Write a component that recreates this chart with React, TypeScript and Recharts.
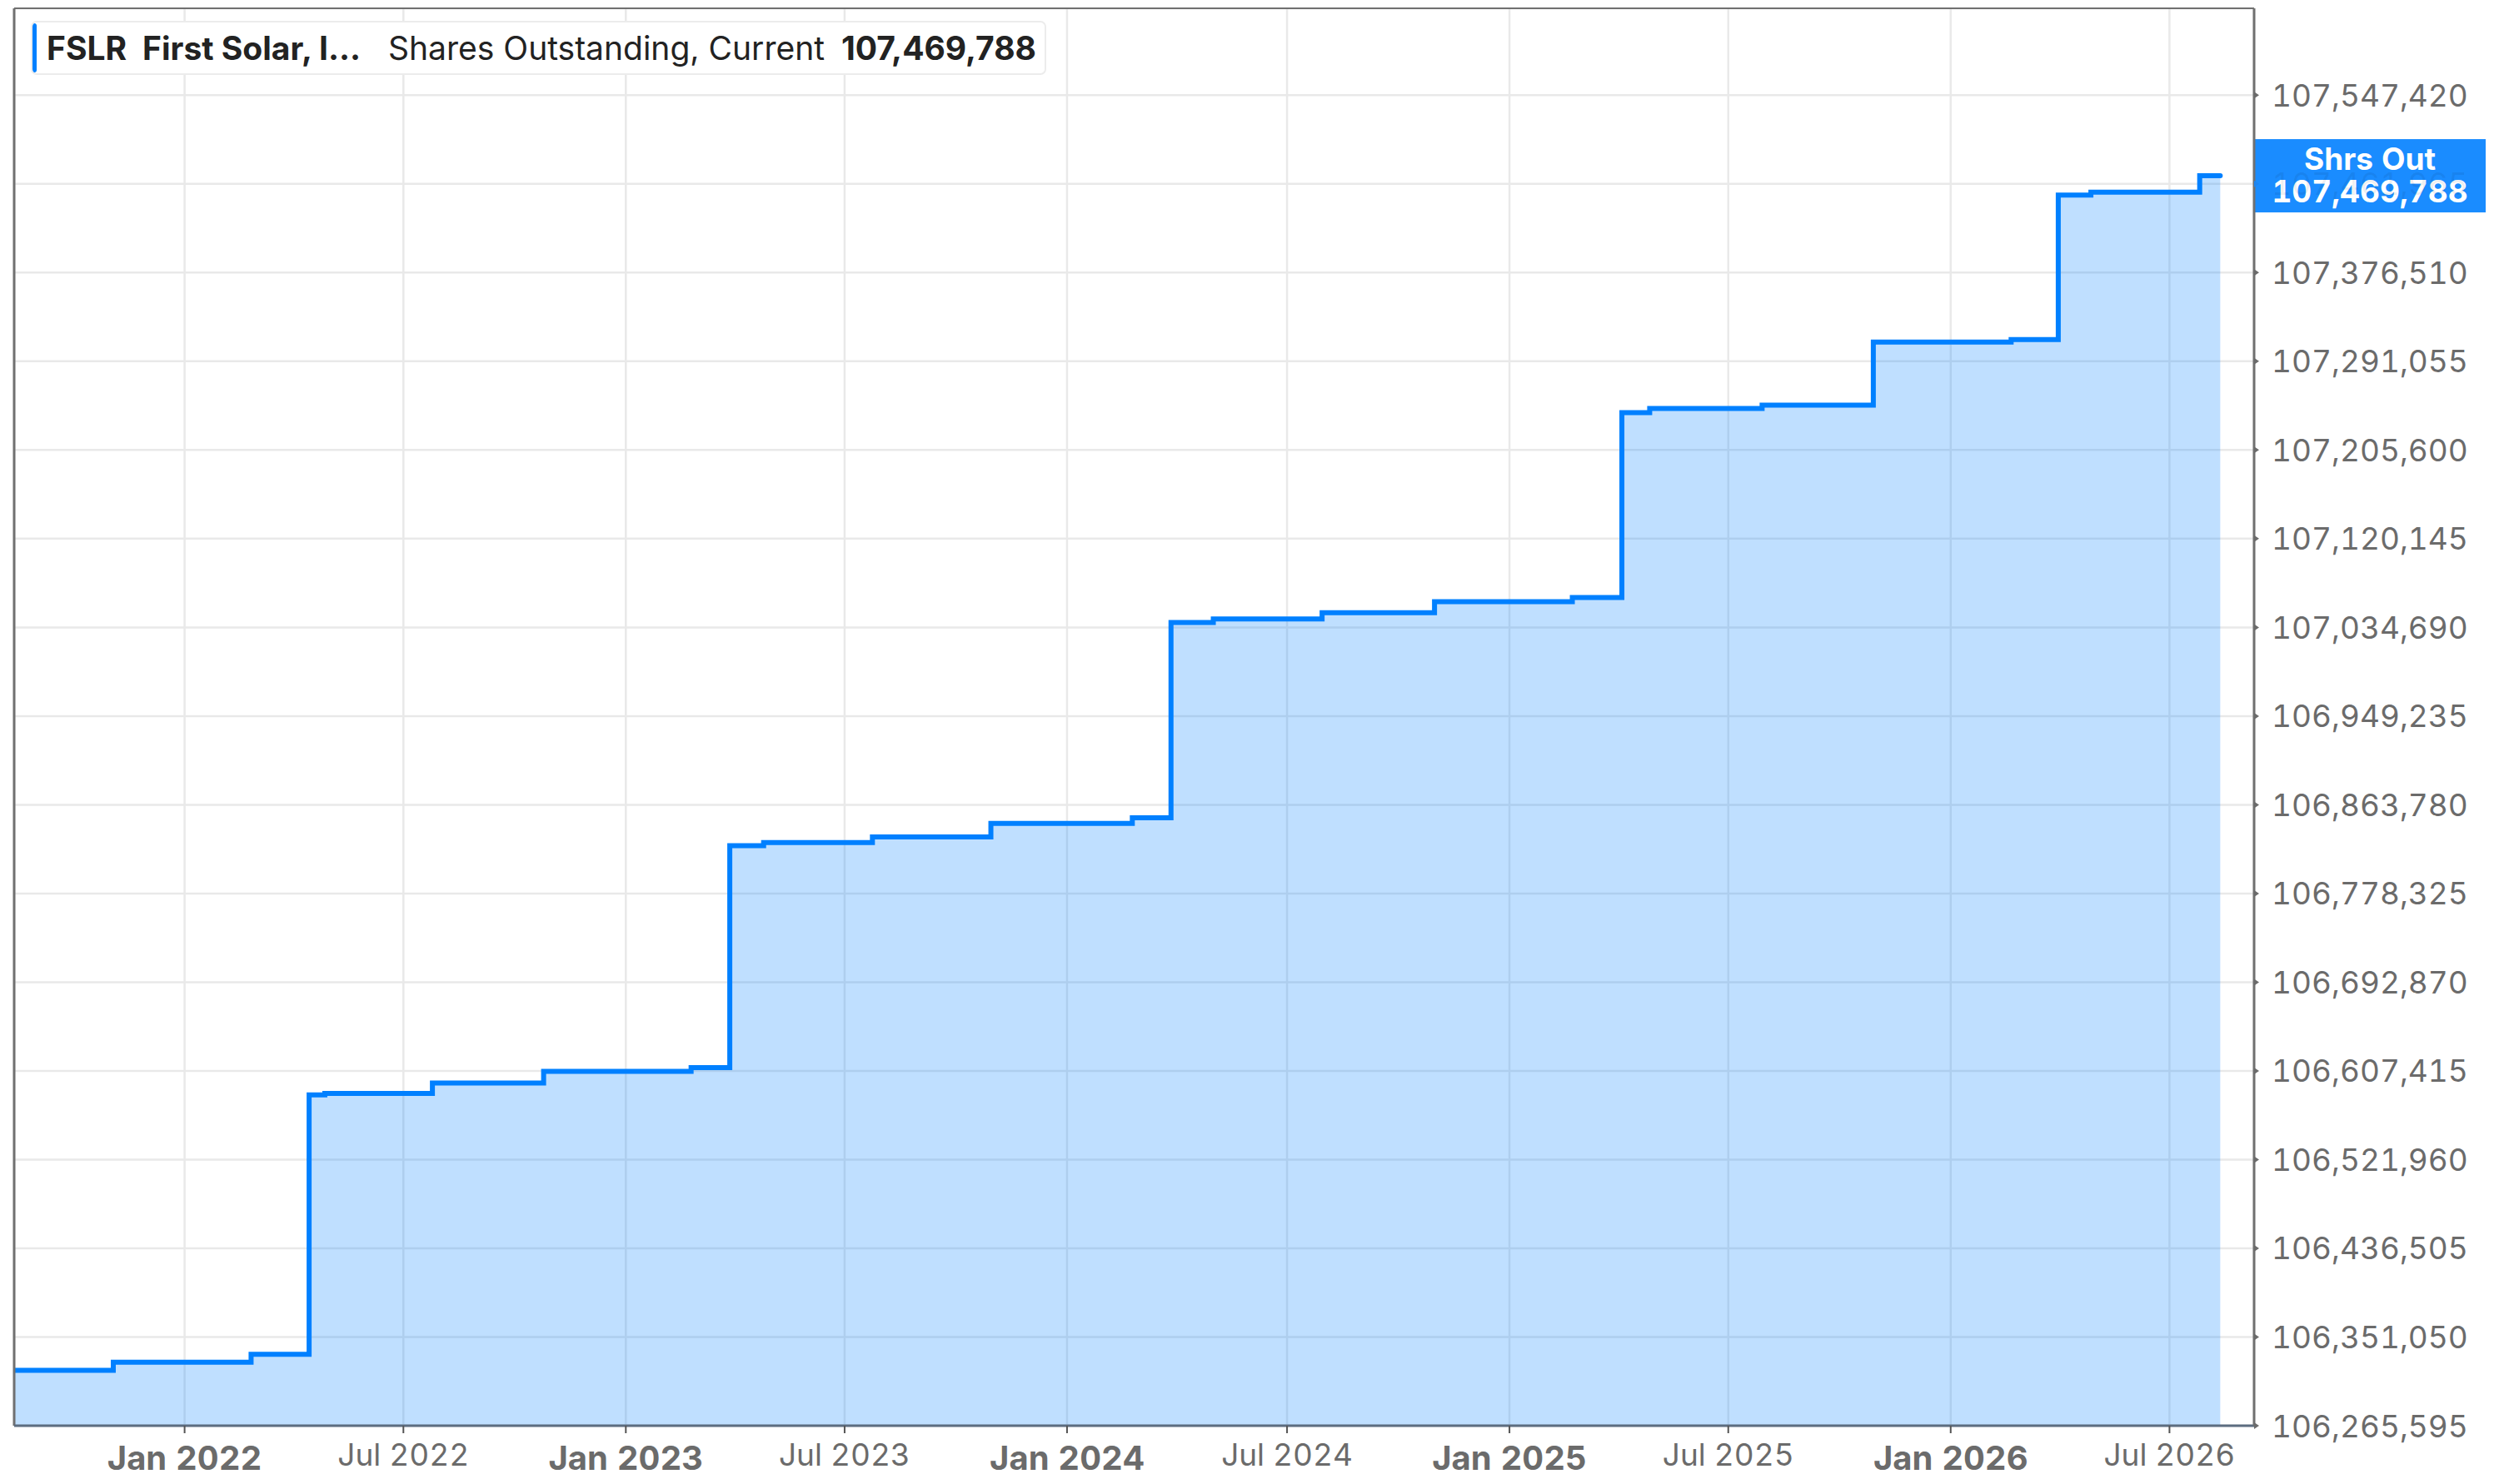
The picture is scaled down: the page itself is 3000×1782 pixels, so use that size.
import React from 'react';
import { AreaChart, Area, XAxis, YAxis, CartesianGrid, ReferenceLine } from 'recharts';

// ---- data ----
const dates = [
  '2021-08-13', '2021-11-03', '2022-02-25', '2022-04-14', '2022-04-27', '2022-07-25',
  '2022-10-25', '2023-02-24', '2023-03-28', '2023-04-25', '2023-07-24', '2023-10-30',
  '2024-02-24', '2024-03-27', '2024-05-01', '2024-07-30', '2024-10-31', '2025-02-22',
  '2025-04-04', '2025-04-27', '2025-07-29', '2025-10-29', '2026-02-20', '2026-03-31',
  '2026-04-27', '2026-07-26', '2026-08-12',
];
const shares = [
  106319000, 106326800, 106334300, 106584300, 106585700, 106595800,
  106607000, 106610500, 106824400, 106827400, 106832750, 106845800,
  106851200, 107039400, 107042900, 107048800, 107059450, 107063460,
  107241550, 107245560, 107248770, 107309500, 107311900, 107451250,
  107453900, 107469788, 107469788,
];
const xTickDates = [
  '2022-01-01', '2022-07-01', '2023-01-01', '2023-07-01', '2024-01-01',
  '2024-07-01', '2025-01-01', '2025-07-01', '2026-01-01', '2026-07-01',
];
const yTicks = [
  106265595, 106351050, 106436505, 106521960, 106607415, 106692870, 106778325, 106863780,
  106949235, 107034690, 107120145, 107205600, 107291055, 107376510, 107461965, 107547420,
];
const xDomainDates = ['2021-08-13', '2026-09-09'];
const yDomain = [106265595, 107631100];
const currentValue = 107469788;
const ticker = 'FSLR';
const companyName = 'First Solar, I...';
const metricName = 'Shares Outstanding, Current';
const badgeTitle = 'Shrs Out';

const ts = (d: string) => Date.parse(d + 'T00:00:00Z');
const data = dates.map((d, i) => ({ t: ts(d), v: shares[i] }));
const xTicks = xTickDates.map(ts);
const xDomain = xDomainDates.map(ts);

const fmt = (n: number) => n.toLocaleString('en-US');
const MONTHS = ['Jan', 'Feb', 'Mar', 'Apr', 'May', 'Jun', 'Jul', 'Aug', 'Sep', 'Oct', 'Nov', 'Dec'];

const FONT = 'Inter, "Noto Sans", sans-serif';
const BLUE = '#0080ff';
const TNUM = { fontVariantNumeric: 'tabular-nums' as const };
// half-height of the badge expressed in shares (a tick under it is mostly hidden)
const badgeHalfSpan = 36000;

const XTick = (props: any) => {
  const { x, y, payload } = props;
  const d = new Date(payload.value);
  const m = d.getUTCMonth();
  const isJan = m === 0;
  const label = `${MONTHS[m]} ${d.getUTCFullYear()}`;
  return (
    <text
      x={x}
      y={y + (isJan ? 29 : 25)}
      textAnchor="middle"
      dominantBaseline="central"
      fontFamily={FONT}
      fontSize={isJan ? 40 : 37}
      fontWeight={isJan ? 700 : 400}
      fill="#6b6b6b"
      style={TNUM}
    >
      {label}
    </text>
  );
};

const YTick = (props: any) => {
  const { x, y, payload } = props;
  const hidden = Math.abs(payload.value - currentValue) < badgeHalfSpan;
  return (
    <g>
      <path d={`M${x},${y - 4} L${x + 6},${y} L${x},${y + 4} Z`} fill={hidden ? '#1f86f0' : '#6b6b6b'} />
      <text
        x={x + 21}
        y={y}
        textAnchor="start"
        dominantBaseline="central"
        fontFamily={FONT}
        fontSize={37}
        fill={hidden ? '#000' : '#6b6b6b'}
        fillOpacity={hidden ? 0.07 : 1}
        style={TNUM}
      >
        {fmt(payload.value)}
      </text>
    </g>
  );
};

const Badge = (props: any) => {
  const vb = props.viewBox || {};
  const bx = vb.x + vb.width;
  const by = vb.y;
  const w = 278;
  const h = 88;
  const cx = bx + w / 2;
  return (
    <g>
      <rect x={bx} y={by - h / 2} width={w} height={h} fill="#1a8cff" />
      <text x={cx} y={by - 21} textAnchor="middle" dominantBaseline="central" fontFamily={FONT} fontSize={37} fontWeight={700} fill="#fff" style={TNUM}>
        {badgeTitle}
      </text>
      <text x={cx} y={by + 18} textAnchor="middle" dominantBaseline="central" fontFamily={FONT} fontSize={37} fontWeight={700} fill="#fff" style={TNUM}>
        {fmt(currentValue)}
      </text>
    </g>
  );
};

export default function App() {
  return (
    <div style={{ position: 'absolute', left: 0, top: 0, width: 3000, height: 1782, background: '#fff' }}>
      <AreaChart
        width={3000}
        height={1782}
        data={data}
        margin={{ top: 10, right: 0, bottom: 0, left: 17 }}
      >
        <CartesianGrid stroke="#e9e9e9" strokeWidth={2.5} />
        <XAxis
          dataKey="t"
          type="number"
          domain={xDomain}
          ticks={xTicks}
          interval={0}
          height={70}
          tick={<XTick />}
          tickSize={9}
          tickMargin={0}
          tickLine={{ stroke: '#555', strokeWidth: 2 }}
          axisLine={{ stroke: '#5d6d80', strokeWidth: 3 }}
          allowDataOverflow
        />
        <YAxis
          orientation="right"
          type="number"
          domain={yDomain}
          ticks={yTicks}
          interval={0}
          width={294}
          tick={<YTick />}
          tickSize={0}
          tickMargin={0}
          tickLine={false}
          axisLine={{ stroke: '#707070', strokeWidth: 3 }}
          allowDataOverflow
        />
        <Area
          type="stepAfter"
          dataKey="v"
          stroke={BLUE}
          strokeWidth={6}
          fill={BLUE}
          fillOpacity={0.25}
          isAnimationActive={false}
          dot={false}
          activeDot={false}
          strokeLinecap="round"
        />
        <ReferenceLine x={xDomain[0]} stroke="#707070" strokeWidth={3} />
        <ReferenceLine y={yDomain[1]} stroke="#707070" strokeWidth={2} />
        <ReferenceLine y={currentValue} stroke="none" label={<Badge />} />
      </AreaChart>
      <div
        style={{
          position: 'absolute',
          left: 37,
          top: 25,
          width: 1219,
          height: 65,
          boxSizing: 'border-box',
          border: '2px solid #ececec',
          borderRadius: 7,
          background: '#fff',
          display: 'flex',
          alignItems: 'center',
          fontFamily: FONT,
          fontSize: 39,
          color: '#222',
          whiteSpace: 'nowrap',
          overflow: 'hidden',
        }}
      >
        <div style={{ position: 'absolute', left: -1, top: 1, bottom: 1, width: 6, background: BLUE, borderRadius: 3 }} />
        <span style={{ marginLeft: 17, fontWeight: 700 }}>{ticker}</span>
        <span style={{ marginLeft: 19, fontWeight: 700 }}>{companyName}</span>
        <span style={{ marginLeft: 33, fontWeight: 400 }}>{metricName}</span>
        <span style={{ marginLeft: 20, fontWeight: 700 }}>{fmt(currentValue)}</span>
      </div>
    </div>
  );
}
